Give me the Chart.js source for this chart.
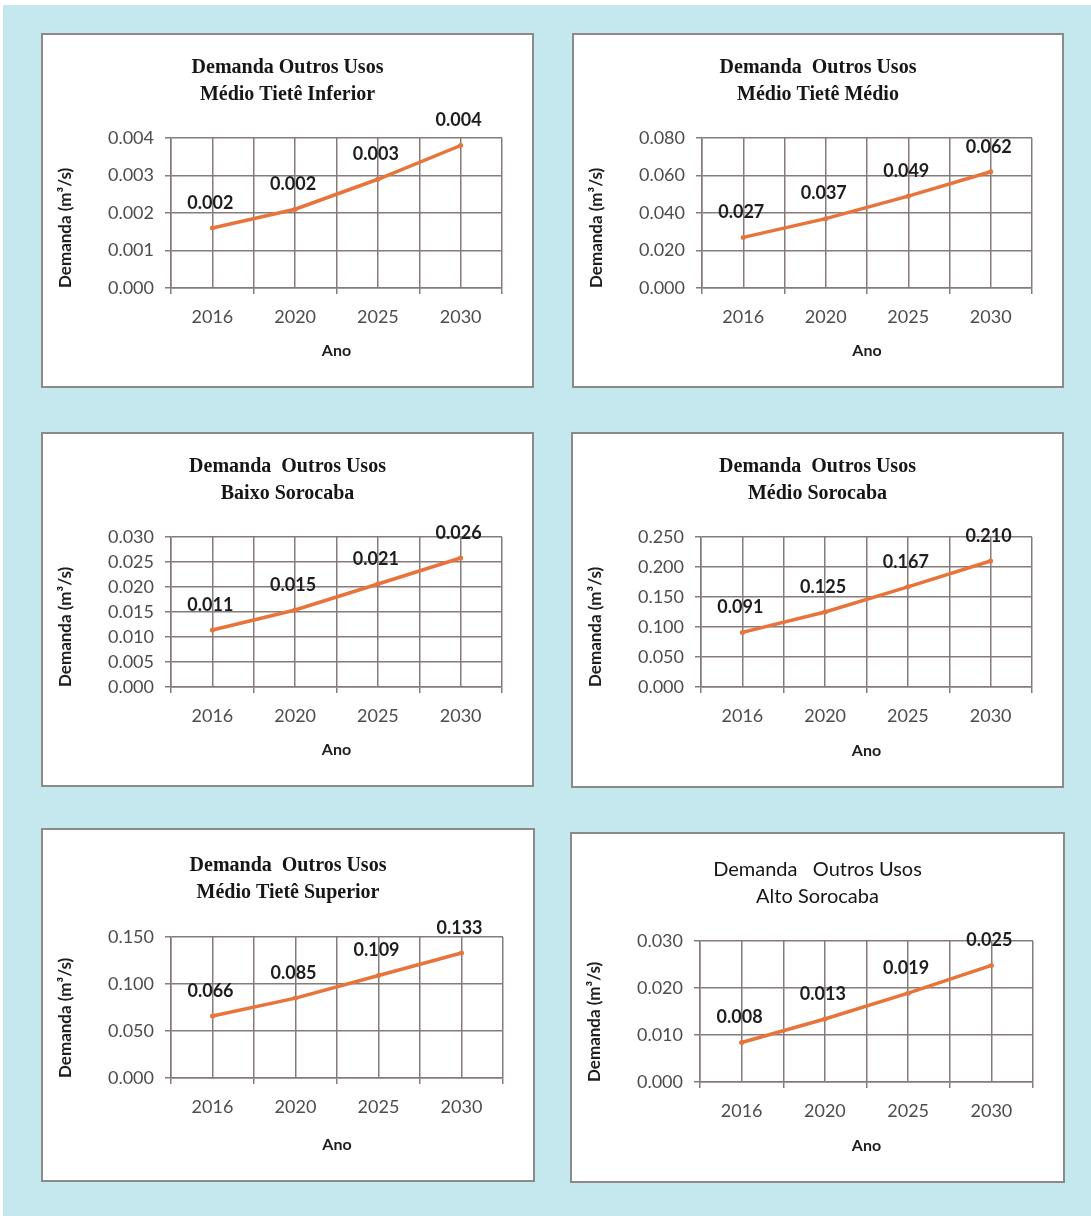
<!DOCTYPE html>
<html>
<head>
<meta charset="utf-8">
<script src="https://cdn.jsdelivr.net/npm/chart.js@4.4.1/dist/chart.umd.min.js"></script>
<style>
  body { margin: 0; background: #fff; width: 1091px; height: 1216px; overflow: hidden; }
  #page { position: absolute; left: 3px; top: 5px; width: 1088px; height: 1211px; background: #c5e8ee; }
  .panel { position: absolute; background: #fff; border: 2px solid #8a8a8a; box-sizing: border-box; }
  .panel canvas { display: block; }
</style>
</head>
<body>
<div id="page"></div>
<div class="panel" id="p0" style="left:41px;top:33px;width:493px;height:355px"><canvas id="c0"></canvas></div>
<div class="panel" id="p1" style="left:572px;top:33px;width:492px;height:355px"><canvas id="c1"></canvas></div>
<div class="panel" id="p2" style="left:41px;top:432px;width:493px;height:355px"><canvas id="c2"></canvas></div>
<div class="panel" id="p3" style="left:571px;top:432px;width:493px;height:356px"><canvas id="c3"></canvas></div>
<div class="panel" id="p4" style="left:41px;top:828px;width:494px;height:354px"><canvas id="c4"></canvas></div>
<div class="panel" id="p5" style="left:570px;top:832px;width:495px;height:351px"><canvas id="c5"></canvas></div>
<script>
// anos (eixo x)
const years = ['2016', '2020', '2025', '2030']

// titulos de cada grafico
const titles = [
    ['Demanda Outros Usos', 'Médio Tietê Inferior'],
    ['Demanda  Outros Usos', 'Médio Tietê Médio'],
    ['Demanda  Outros Usos', 'Baixo Sorocaba'],
    ['Demanda  Outros Usos', 'Médio Sorocaba'],
    ['Demanda  Outros Usos', 'Médio Tietê Superior'],
    ['Demanda   Outros Usos', 'Alto Sorocaba']
]

// demanda (m3/s)
const medioTieteInferior = [0.0016, 0.0021, 0.0029, 0.0038]
const medioTieteMedio = [0.027, 0.037, 0.049, 0.062]
const baixoSorocaba = [0.0114, 0.0154, 0.0206, 0.0258]
const medioSorocaba = [0.091, 0.125, 0.167, 0.210]
const medioTieteSuperior = [0.066, 0.085, 0.109, 0.133]
const altoSorocaba = [0.0084, 0.0134, 0.0189, 0.0248]

// escala do eixo y
const yMax = [0.004, 0.08, 0.03, 0.25, 0.15, 0.03]
const yStep = [0.001, 0.02, 0.005, 0.05, 0.05, 0.01]

const series = [medioTieteInferior, medioTieteMedio, baixoSorocaba, medioSorocaba, medioTieteSuperior, altoSorocaba]

const gridColor = '#857b7b'
const lineColor = '#e8743b'

// rotulos de valor acima dos pontos
const valueLabels = {
    id: 'valueLabels',
    afterDatasetsDraw(chart) {
        const ctx = chart.ctx
        const meta = chart.getDatasetMeta(0)
        ctx.save()
        ctx.font = 'bold 18px Lato'
        ctx.fillStyle = '#1e1e1e'
        ctx.textAlign = 'center'
        ctx.textBaseline = 'middle'
        meta.data.forEach((pt, i) => {
            ctx.fillText(chart.data.datasets[0].data[i].y.toFixed(3), pt.x - 2, pt.y - 25)
        })
        ctx.restore()
    }
}

function makeChart(i) {
    const panel = document.getElementById('p' + i)
    const canvas = document.getElementById('c' + i)
    const w = panel.clientWidth
    const h = panel.clientHeight
    canvas.width = w
    canvas.height = h
    canvas.style.width = w + 'px'
    canvas.style.height = h + 'px'

    const bottomRow = i >= 4
    const plotLeft = 128
    const rightGap = 30
    const plotTop = bottomRow ? 107 : 103
    const plotBottom = bottomRow ? 248 : 253
    const titleTop = bottomRow ? 22 : 19
    const serif = i < 5
    const titleLine = 27

    new Chart(canvas.getContext('2d'), {
        type: 'line',
        data: {
            datasets: [{
                data: series[i].map((v, k) => ({ x: k, y: v })),
                borderColor: lineColor,
                backgroundColor: lineColor,
                borderWidth: 3.5,
                pointRadius: 2.5,
                pointBorderWidth: 0,
                tension: 0
            }]
        },
        options: {
            responsive: false,
            animation: false,
            layout: { padding: 0 },
            plugins: {
                legend: { display: false },
                tooltip: { enabled: false },
                title: {
                    display: true,
                    text: titles[i],
                    color: '#161616',
                    font: serif
                        ? { family: 'Liberation Serif', size: 20, weight: 'bold', lineHeight: titleLine / 20 }
                        : { family: 'Lato', size: 20, weight: 'normal', lineHeight: titleLine / 20 },
                    padding: { top: titleTop, bottom: plotTop - titleTop - 2 * titleLine }
                }
            },
            scales: {
                x: {
                    type: 'linear',
                    min: -0.5,
                    max: 3.5,
                    afterFit: (scale) => { scale.height = h - plotBottom },
                    ticks: {
                        stepSize: 0.5,
                        autoSkip: false,
                        maxRotation: 0,
                        padding: 12,
                        color: '#4d4d4d',
                        font: { family: 'Lato', size: 18 },
                        callback: (v) => Number.isInteger(v) ? years[v] : ''
                    },
                    grid: {
                        color: gridColor,
                        lineWidth: 1.5,
                        tickLength: 6,
                        tickColor: (c) => Number.isInteger(c.tick.value) ? 'rgba(0,0,0,0)' : gridColor
                    },
                    border: { color: gridColor, width: 1.5 },
                    title: {
                        display: true,
                        text: 'Ano',
                        color: '#1e1e1e',
                        font: { family: 'Lato', size: 16, weight: 'bold' },
                        padding: { top: 0, bottom: 26 }
                    }
                },
                y: {
                    min: 0,
                    max: yMax[i],
                    afterFit: (scale) => { scale.width = plotLeft },
                    ticks: {
                        stepSize: yStep[i],
                        padding: 11,
                        color: '#4d4d4d',
                        font: { family: 'Lato', size: 18 },
                        callback: (v) => v.toFixed(3)
                    },
                    grid: { color: gridColor, lineWidth: 1.5, tickLength: 6 },
                    border: { color: gridColor, width: 1.5 },
                    title: {
                        display: true,
                        text: 'Demanda (m³/s)',
                        align: 'start',
                        color: '#1e1e1e',
                        font: { family: 'Lato', size: 17, weight: 'bold' },
                        padding: { top: 12, bottom: 0 }
                    }
                },
                // eixo vazio so para reservar a margem direita
                spacer: {
                    type: 'linear',
                    position: 'right',
                    afterFit: (scale) => { scale.width = rightGap },
                    ticks: { display: false },
                    grid: { display: false },
                    border: { display: false }
                }
            }
        },
        plugins: [valueLabels]
    })
}

for (let i = 0; i < 6; i++) makeChart(i)
</script>
</body>
</html>
